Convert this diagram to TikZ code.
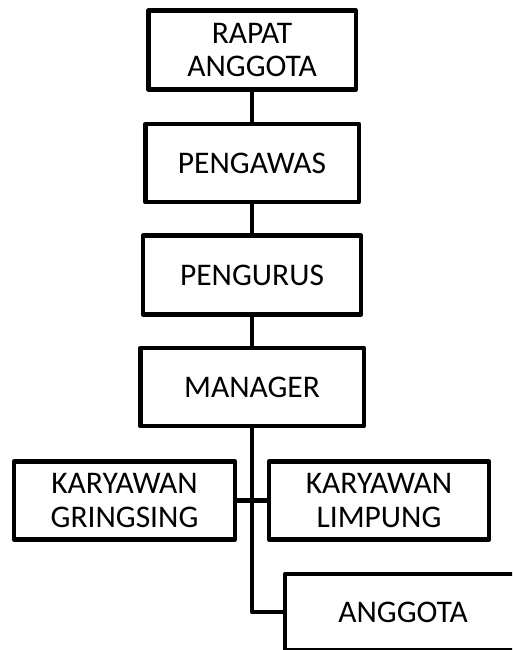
\documentclass[tikz,border=0pt]{standalone}
\usepackage{fontspec}
\setmainfont{Carlito}
\usetikzlibrary{positioning}

\begin{document}
\begin{tikzpicture}[x=1pt,y=-1pt,on grid,node distance=112pt,
    unit/.style={draw,line width=4.5pt,line join=round,align=center,
      inner sep=0pt,minimum height=78pt,
      font=\fontsize{31.5}{33.5}\selectfont},
    link/.style={line width=4.5pt,line join=round}]
   \path[use as bounding box,clip] (0,0) rectangle (512,650);

   \node[unit,minimum width=207.5pt,minimum height=79pt] (rapat) at (252,50) {RAPAT\\ANGGOTA};
   \node[unit,minimum width=213.5pt] (pengawas) [below=113pt of rapat] {PENGAWAS};
   \node[unit,minimum width=218pt,minimum height=79pt] (pengurus) [below=of pengawas] {PENGURUS};
   \node[unit,minimum width=223.5pt] (manager) [below=of pengurus] {MANAGER};
   \node[unit,minimum width=221pt] (gringsing) [below left=113.5pt and 127.5pt of manager] {KARYAWAN\\GRINGSING};
   \node[unit,minimum width=220pt] (limpung) [below right=113.5pt and 127pt of manager] {KARYAWAN\\LIMPUNG};
   \node[unit,minimum width=236pt,minimum height=76pt] (anggota) [below right=225pt and 151pt of manager] {ANGGOTA};

   \draw[link] (rapat) -- (pengawas);
   \draw[link] (pengawas) -- (pengurus);
   \draw[link] (pengurus) -- (manager);
   \draw[link] (manager.south) |- (anggota.west);
   \draw[link] (gringsing.east) -- (limpung.west);
\end{tikzpicture}
\end{document}
